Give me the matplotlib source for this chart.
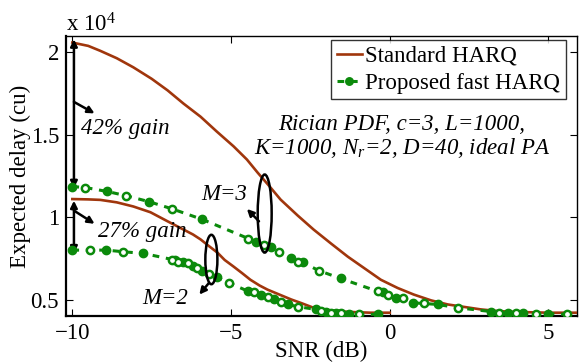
import matplotlib
matplotlib.use('Agg')
import numpy as np
import matplotlib.pyplot as plt
from matplotlib.patches import Ellipse

plt.rcParams['font.family'] = ['Liberation Serif', 'DejaVu Serif']
plt.rcParams['mathtext.fontset'] = 'custom'
plt.rcParams['mathtext.rm'] = 'Liberation Serif'
plt.rcParams['mathtext.it'] = 'Liberation Serif:italic'

# expected delay in units of 10^4 cu, vs SNR in dB
snr_std3 = [-10, -9.5, -9.12, -8.6, -8.08, -7.5, -7.0, -6.5, -5.96, -5.45,
            -4.92, -4.5, -4.16, -3.8, -3.44, -2.9, -2.40, -1.85, -1.32, -0.8,
            -0.28, 0.25, 0.76, 1.3, 1.83, 2.35, 2.87, 3.4, 3.9, 5.0, 5.9]
delay_std3 = [2.06, 2.04, 2.01, 1.965, 1.91, 1.84, 1.77, 1.69, 1.61, 1.52,
              1.43, 1.35, 1.27, 1.19, 1.107, 1.01, 0.925, 0.84, 0.76, 0.69,
              0.62, 0.57, 0.53, 0.495, 0.47, 0.455, 0.44, 0.43, 0.425, 0.42, 0.42]

snr_std2 = [-10, -9.5, -9.12, -8.6, -8.08, -7.54, -7.0, -6.75, -6.5, -6.2,
            -5.96, -5.7, -5.43, -5.2, -4.92, -4.65, -4.39, -4.1, -3.85, -3.6,
            -3.35, -3.1, -2.81, -2.40, -1.9, -1.32, -0.6, 0.0]
delay_std2 = [1.11, 1.108, 1.105, 1.09, 1.065, 1.03, 0.975, 0.95, 0.925, 0.895,
              0.865, 0.825, 0.785, 0.74, 0.70, 0.66, 0.62, 0.585, 0.56, 0.54,
              0.52, 0.50, 0.48, 0.45, 0.435, 0.425, 0.42, 0.42]

snr_fast3 = [-10, -9.59, -8.9, -8.3, -7.6, -6.85, -5.9, -4.45, -4.2, -3.97,
             -3.75, -3.5, -3.12, -2.9, -2.74, -2.24, -1.55, -0.38, -0.22, -0.06,
             0.19, 0.41, 0.73, 1.07, 1.51, 2.15, 3.19, 3.44, 3.72, 3.97,
             4.2, 4.6, 4.98, 5.6]
delay_fast3 = [1.186, 1.18, 1.156, 1.13, 1.095, 1.05, 0.986, 0.87, 0.852, 0.834,
               0.816, 0.79, 0.755, 0.73, 0.725, 0.676, 0.628, 0.55, 0.543, 0.53,
               0.512, 0.512, 0.48, 0.476, 0.47, 0.45, 0.427, 0.42, 0.42, 0.42,
               0.42, 0.415, 0.415, 0.41]

snr_fast2 = [-10, -9.43, -8.93, -8.39, -7.76, -6.85, -6.75, -6.66, -6.5, -6.37,
             -6.21, -6.06, -5.9, -5.71, -5.43, -5.08, -4.45, -4.29, -4.07, -3.85,
             -3.66, -3.44, -3.22, -2.9, -2.33, -2.18, -2.02, -1.86, -1.7, -1.55,
             -1.29, -0.98, -0.38]
delay_fast2 = [0.80, 0.80, 0.80, 0.79, 0.78, 0.743, 0.737, 0.73, 0.725, 0.72,
               0.706, 0.694, 0.676, 0.652, 0.634, 0.603, 0.549, 0.543, 0.53, 0.518,
               0.506, 0.488, 0.47, 0.457, 0.44, 0.433, 0.427, 0.42, 0.42, 0.42,
               0.415, 0.41, 0.41]

brown = '#a0360c'
green = '#0b8a0b'
fs = 16.5

fig = plt.figure(figsize=(5.8, 3.62), dpi=100)
ax = fig.add_axes([66/580, 46/362, 511/580, 280/362])

ax.plot(snr_std3, delay_std3, color=brown, lw=1.9, label='Standard HARQ', zorder=3)
ax.plot(snr_std2, delay_std2, color=brown, lw=1.9, zorder=3)


def fast_curve(x, y, label=None):
    x = np.asarray(x)
    y = np.asarray(y)
    ax.plot(x, y, color=green, lw=2.2, ls=(0, (2.2, 2.2)), marker='o', ms=6,
            mfc=green, mec=green, label=label, zorder=4)
    # every other marker gets a light centre, like overlapping rings
    ring = np.arange(len(x)) % 2 == 1
    ax.plot(x[ring], y[ring], ls='none', marker='o', ms=2.4, mfc='white',
            mec='white', zorder=5)


fast_curve(snr_fast3, delay_fast3, 'Proposed fast HARQ')
fast_curve(snr_fast2, delay_fast2)

ax.set_xlim(-10.2, 5.9)
ax.set_ylim(0.4, 2.1)
ax.set_xticks([-10, -5, 0, 5])
ax.set_yticks([0.5, 1, 1.5, 2])
ax.set_yticklabels(['0.5', '1', '1.5', '2'])
ax.tick_params(direction='in', length=5, top=True, right=True, labelsize=fs,
               width=0.8, pad=5)
for s in ax.spines.values():
    s.set_linewidth(1.0)
ax.spines['bottom'].set_linewidth(1.6)
ax.spines['left'].set_linewidth(1.6)

ax.set_xlabel('SNR (dB)', fontsize=fs, labelpad=-2)
ax.set_ylabel('Expected delay (cu)', fontsize=fs, labelpad=0)
ax.text(0.0, 1.0, 'x 10$^4$', transform=ax.transAxes, fontsize=fs,
        ha='left', va='bottom')

leg = ax.legend(loc='upper right', bbox_to_anchor=(566/580, 1 - 40/362),
                bbox_transform=fig.transFigure, fontsize=fs, frameon=True,
                fancybox=False, edgecolor='black', handlelength=1.1,
                handletextpad=0.15, borderpad=0.25, labelspacing=0.25,
                borderaxespad=0, markerscale=0.9)
leg.get_frame().set_linewidth(1.0)

# gain arrows at SNR = -10 dB
arr = dict(arrowstyle='<|-|>', color='black', lw=1.8, mutation_scale=10,
           shrinkA=0, shrinkB=0)
ax.annotate('', xy=(-9.95, delay_std3[0] + 0.02), xytext=(-9.95, delay_fast3[0] - 0.01),
            arrowprops=arr)
ax.annotate('', xy=(-9.95, delay_std2[0] - 0.01), xytext=(-9.95, delay_fast2[0] - 0.02),
            arrowprops=arr)
one = dict(arrowstyle='-|>', color='black', lw=1.8, mutation_scale=10,
           shrinkA=0, shrinkB=0)
ax.annotate('', xy=(-9.3, 1.63), xytext=(-9.95, 1.70), arrowprops=one)
ax.annotate('', xy=(-9.3, 0.96), xytext=(-9.95, 1.04), arrowprops=one)
ax.text(-9.72, 1.54, '42% gain', fontsize=fs, style='italic', va='center')
ax.text(-9.2, 0.915, '27% gain', fontsize=fs, style='italic', va='center')

# M labels with ellipses
ax.add_patch(Ellipse((-3.94, 1.022), 0.44, 0.474, fill=False, lw=1.8,
                     color='black', zorder=6))
ax.add_patch(Ellipse((-5.62, 0.743), 0.38, 0.30, fill=False, lw=1.8,
                     color='black', zorder=6))
ax.annotate('', xy=(-4.5, 1.05), xytext=(-4.12, 0.975), arrowprops=one, zorder=6)
ax.annotate('', xy=(-6.0, 0.53), xytext=(-5.7, 0.6), arrowprops=one, zorder=6)
ax.text(-5.2, 1.14, 'M=3', fontsize=fs, style='italic', ha='center', va='center')
ax.text(-7.07, 0.505, 'M=2', fontsize=fs, style='italic', ha='center', va='center')

ax.text(0.38, 1.56, 'Rician PDF, c=3, L=1000,', fontsize=fs, style='italic',
        ha='center', va='center')
ax.text(0.38, 1.42, 'K=1000, N$_r$=2, D=40, ideal PA', fontsize=fs,
        style='italic', ha='center', va='center')

fig.savefig('out.png', dpi=100)
